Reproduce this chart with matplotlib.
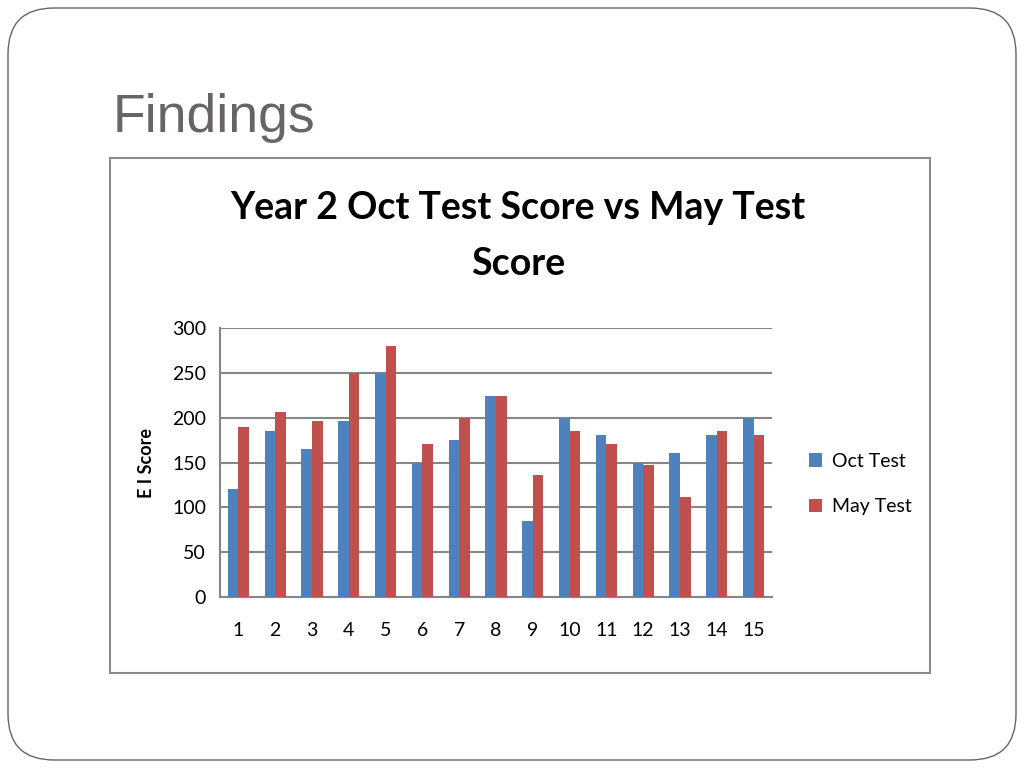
import matplotlib
matplotlib.use("Agg")
import matplotlib.pyplot as plt
import numpy as np
from matplotlib.patches import FancyBboxPatch, Rectangle

# data
pupils = list(range(1, 16))
oct_test = [120, 185, 165, 196, 250, 150, 175, 224, 85, 200, 181, 150, 161, 181, 200]
may_test = [190, 206, 196, 250, 280, 171, 200, 224, 136, 185, 171, 147, 112, 185, 181]
yticks = [0, 50, 100, 150, 200, 250, 300]

blue = '#4f81bd'
red = '#c0504d'
grid_col = '#868686'

plt.rcParams['font.family'] = ['Lato', 'DejaVu Sans']

fig = plt.figure(figsize=(10.24, 7.68), dpi=100)
W, H = 1024.0, 768.0

# slide border (rounded)
fig.patches.append(FancyBboxPatch((8 / W, 8 / H), 1008 / W, 752 / H,
                                  boxstyle="round,pad=0,rounding_size=0.045",
                                  transform=fig.transFigure, fill=False,
                                  edgecolor='#666666', linewidth=1.0,
                                  mutation_aspect=W / H))

# slide title
fig.text(113 / W, 1 - 118 / H, "Findings", fontsize=38.5, color='#696464',
         family=['Liberation Sans', 'DejaVu Sans'], va='center', ha='left')

# chart box
fig.patches.append(Rectangle((110 / W, 1 - 673 / H), 820 / W, 515 / H,
                             transform=fig.transFigure, fill=False,
                             edgecolor='#8c8c8c', linewidth=1.5))

fig.text(518 / W, 1 - 208 / H, "Year 2 Oct Test Score vs May Test", fontsize=27,
         fontweight='bold', ha='center', va='center')
fig.text(518 / W, 1 - 264 / H, "Score", fontsize=27, fontweight='bold',
         ha='center', va='center')

ax = fig.add_axes([220 / W, 1 - 597 / H, 552 / W, 269 / H])
x = np.array(pupils)
w = 0.286
ax.bar(x - w / 2, oct_test, w, color=blue, label='Oct Test', zorder=3)
ax.bar(x + w / 2, may_test, w, color=red, label='May Test', zorder=3)

ax.set_xlim(0.5, 15.5)
ax.set_ylim(0, 300)
ax.set_yticks(yticks)
ax.set_xticks(pupils)
ax.tick_params(axis='both', length=0, labelsize=14, pad=10)
ax.tick_params(axis='x', pad=18)
ax.yaxis.grid(True, color=grid_col, linewidth=1.5, zorder=0)
for s in ['top', 'right']:
    ax.spines[s].set_visible(False)
ax.spines['left'].set_color(grid_col)
ax.spines['bottom'].set_color(grid_col)
ax.spines['left'].set_linewidth(1.5)
ax.spines['bottom'].set_linewidth(1.5)
ax.set_ylabel("E I Score", fontsize=13, fontweight='bold', labelpad=12)

ax.legend(loc='center left', bbox_to_anchor=(1.035, 0.42), frameon=False,
          fontsize=14, handlelength=0.7, handleheight=0.7, labelspacing=1.45,
          handletextpad=0.5)

fig.savefig("out.png", dpi=100)
